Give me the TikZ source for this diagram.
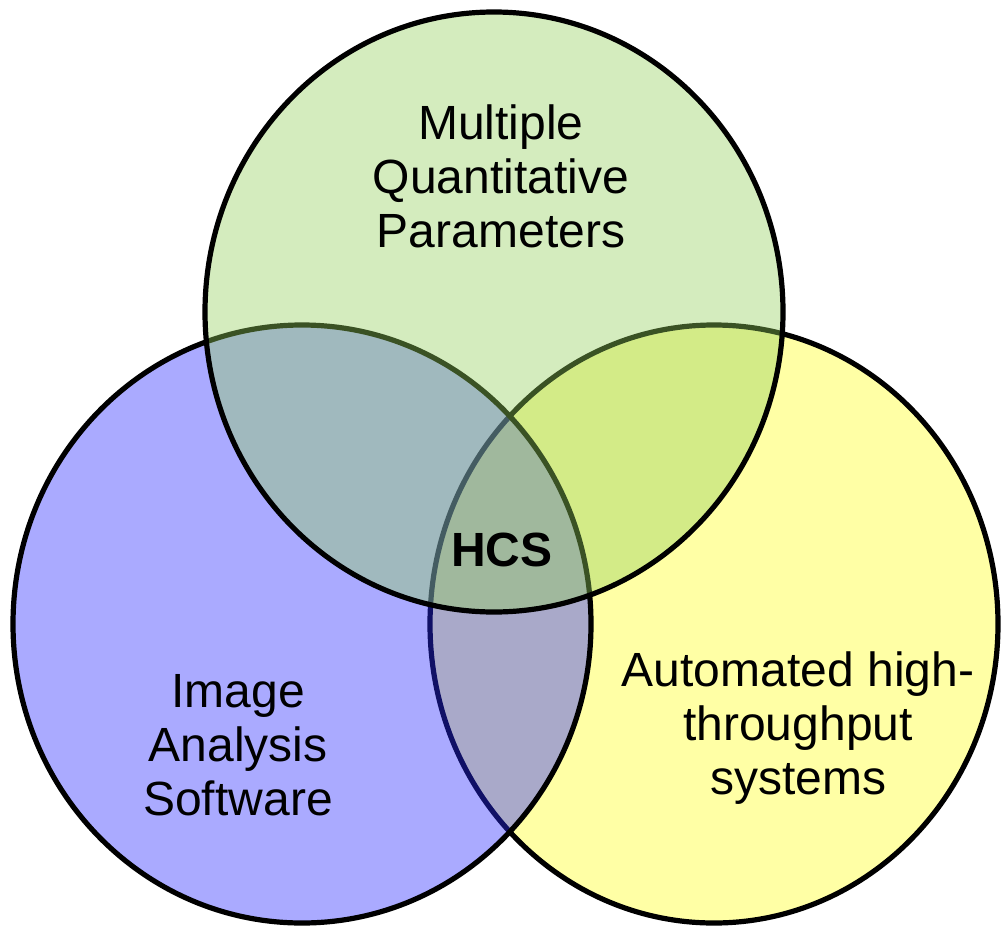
\documentclass[tikz,border=0pt]{standalone}
\usepackage{fontspec}
\setmainfont{Liberation Sans}

\definecolor{hcsyellow}{RGB}{255,255,165}
\definecolor{hcsblue}{RGB}{42,42,255}
\definecolor{hcsgreen}{RGB}{147,207,92}

\begin{document}
\begin{tikzpicture}[
  x=0.5pt, y=-0.5pt,
  set/.style={line width=2.6pt, draw=black},
  label/.style={align=center, font=\fontsize{24}{27}\selectfont}
]
\useasboundingbox (0,0) rectangle (1001,926);

\filldraw [set, fill=hcsyellow] (714,624) ellipse [x radius=284, y radius=299];
\filldraw [set, fill=hcsblue, fill opacity=0.4] (302,624) ellipse [x radius=289, y radius=299];
\filldraw [set, fill=hcsgreen, fill opacity=0.4] (494,312) ellipse [x radius=289, y radius=300];

\node [label] (params) at (501,176) {Multiple\\Quantitative\\Parameters};
\node [label] (software) at (238,745) {Image\\Analysis\\Software};
\node [label] (systems) at (798,728) {Automated high-\\throughput\\systems};
\node [label, font=\fontsize{24}{27}\selectfont\bfseries] (hcs) at (502,550) {HCS};
\end{tikzpicture}
\end{document}
